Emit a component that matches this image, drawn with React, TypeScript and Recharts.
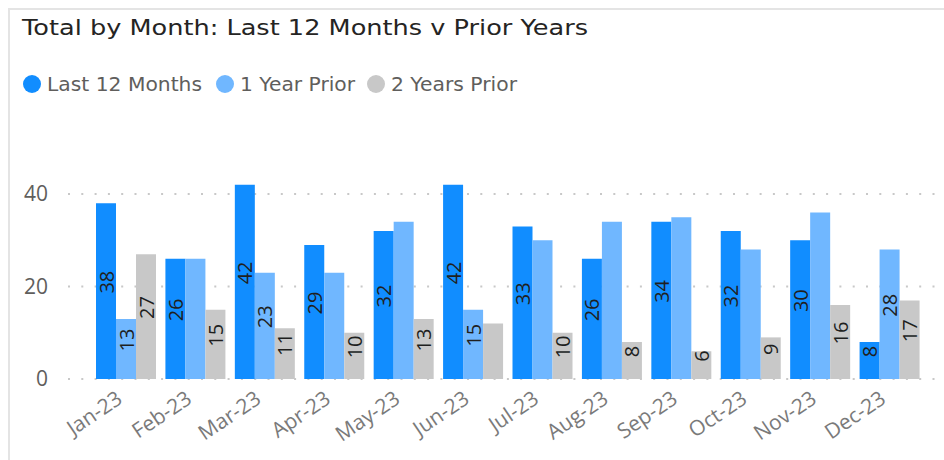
import React from 'react';
import { BarChart, Bar, XAxis, YAxis, CartesianGrid, LabelList } from 'recharts';

const months = ['Jan-23', 'Feb-23', 'Mar-23', 'Apr-23', 'May-23', 'Jun-23', 'Jul-23', 'Aug-23', 'Sep-23', 'Oct-23', 'Nov-23', 'Dec-23'];
const last12 = [38, 26, 42, 29, 32, 42, 33, 26, 34, 32, 30, 8];
const prior1 = [13, 26, 23, 23, 34, 15, 30, 34, 35, 28, 36, 28];
const prior2 = [27, 15, 11, 10, 13, 12, 10, 8, 6, 9, 16, 17];
// which data labels are visible in the reference (Power BI hides overlapping ones)
const showLast12 = [true, true, true, true, true, true, true, true, true, true, true, true];
const showPrior1 = [true, false, true, false, false, true, false, false, false, false, false, true];
const showPrior2 = [true, true, true, true, true, false, true, true, true, true, true, true];
const yTicks = [0, 20, 40];

const seriesNames = ['Last 12 Months', '1 Year Prior', '2 Years Prior'];
const seriesColors = ['#118DFF', '#70B7FF', '#C8C8C8'];

const data = months.map((m, i) => ({ month: m, last12: last12[i], prior1: prior1[i], prior2: prior2[i] }));

const AXIS_FONT = '"Open Sans", "Noto Sans", sans-serif';
const TITLE_FONT = '"DejaVu Sans", "Noto Sans", sans-serif';

const makeLabel = (shown: boolean[]) => (props: any) => {
  const { x, y, width, height, index, value } = props;
  if (!shown[index]) return null;
  const cx = Number(x) + Number(width) / 2;
  const cy = Number(y) + Number(height) / 2 - 9;
  return (
    <text
      x={cx}
      y={cy}
      transform={`rotate(-90, ${cx}, ${cy})`}
      textAnchor="middle"
      dominantBaseline="central"
      fontSize={20}
      fontFamily={AXIS_FONT}
      fill="#201F1E"
    >
      {value}
    </text>
  );
};

const XTick = (props: any) => {
  const { x, y, payload } = props;
  const tx = x - 3;
  const ty = y + 23;
  return (
    <text
      x={tx}
      y={ty}
      transform={`rotate(-34, ${tx}, ${ty})`}
      textAnchor="end"
      fontSize={21}
      fontFamily={AXIS_FONT}
      fill="#7a7a7a"
    >
      {payload.value}
    </text>
  );
};

const legendX = [32, 225, 376];
const legendTextLen = [155, 115, 126];

export default function App() {
  return (
    <div style={{ position: 'absolute', left: 0, top: 0, width: 944, height: 460, background: '#ffffff', overflow: 'hidden' }}>
      <div style={{ position: 'absolute', left: 8, top: 8, width: 936, height: 2, background: '#e4e4e4' }} />
      <div style={{ position: 'absolute', left: 8, top: 8, width: 2, height: 452, background: '#e4e4e4' }} />
      <svg width={944} height={120} style={{ position: 'absolute', left: 0, top: 0 }}>
        <text x={22} y={35} fontFamily={TITLE_FONT} fontSize={22} fill="#252423" textLength={566} lengthAdjust="spacingAndGlyphs">
          Total by Month: Last 12 Months v Prior Years
        </text>
        {seriesNames.map((n, i) => (
          <g key={n}>
            <circle cx={legendX[i]} cy={84} r={9} fill={seriesColors[i]} />
            <text
              x={legendX[i] + 15}
              y={91}
              fontFamily={TITLE_FONT}
              fontSize={19}
              fill="#605E5C"
              textLength={legendTextLen[i]}
              lengthAdjust="spacingAndGlyphs"
            >
              {n}
            </text>
          </g>
        ))}
      </svg>
      <div style={{ position: 'absolute', left: 0, top: 0 }}>
        <BarChart
          width={944}
          height={460}
          data={data}
          margin={{ top: 157, right: 0, bottom: 0, left: 0 }}
          barCategoryGap={4}
          barGap={0}
        >
          <CartesianGrid
            vertical={false}
            horizontalValues={yTicks}
            stroke="#c8c8c8"
            strokeWidth={2}
            strokeDasharray="2 11.3"
          />
          <XAxis
            dataKey="month"
            axisLine={false}
            tickLine={false}
            tickSize={0}
            tickMargin={0}
            height={81}
            interval={0}
            padding={{ left: 24, right: 19 }}
            tick={<XTick />}
          />
          <YAxis
            width={68}
            domain={[0, 48]}
            ticks={yTicks}
            axisLine={false}
            tickLine={false}
            tickSize={0}
            tickMargin={20}
            tick={{ fontSize: 21, fill: '#605E5C', fontFamily: AXIS_FONT }}
          />
          <Bar dataKey="last12" name={seriesNames[0]} fill={seriesColors[0]} isAnimationActive={false}>
            <LabelList dataKey="last12" content={makeLabel(showLast12)} />
          </Bar>
          <Bar dataKey="prior1" name={seriesNames[1]} fill={seriesColors[1]} isAnimationActive={false}>
            <LabelList dataKey="prior1" content={makeLabel(showPrior1)} />
          </Bar>
          <Bar dataKey="prior2" name={seriesNames[2]} fill={seriesColors[2]} isAnimationActive={false}>
            <LabelList dataKey="prior2" content={makeLabel(showPrior2)} />
          </Bar>
        </BarChart>
      </div>
    </div>
  );
}
